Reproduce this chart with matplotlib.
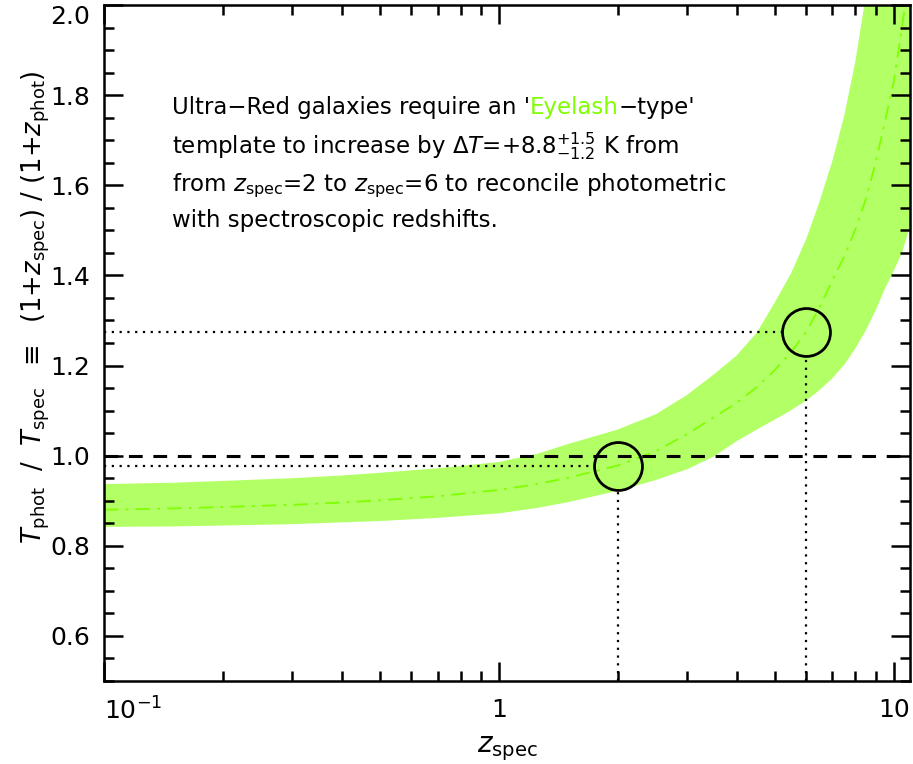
import numpy as np
import matplotlib
matplotlib.use("Agg")
import matplotlib.pyplot as plt
from matplotlib.ticker import FixedLocator, MultipleLocator, NullFormatter

# Redshift grid and the temperature-ratio band (centre, lower and upper edges)
z_spec = [0.1, 0.15, 0.2, 0.3, 0.4, 0.5, 0.7, 1.0, 1.25, 1.5, 2.0, 2.5, 3.0, 3.5,
          4.0, 4.5, 5.0, 5.5, 6.0, 6.5, 7.0, 7.5, 8.0, 8.5, 9.0, 9.5, 10.0, 10.5, 11.0]
ratio_mid = [0.880, 0.883, 0.886, 0.891, 0.896, 0.901, 0.910, 0.924, 0.937, 0.951,
             0.978, 1.010, 1.048, 1.085, 1.117, 1.152, 1.190, 1.230, 1.274, 1.330,
             1.390, 1.442, 1.502, 1.569, 1.650, 1.740, 1.828, 1.950, 2.080]
ratio_hi = [0.937, 0.940, 0.944, 0.950, 0.956, 0.962, 0.972, 0.986, 1.004, 1.026,
            1.058, 1.092, 1.135, 1.180, 1.222, 1.273, 1.340, 1.405, 1.480, 1.565,
            1.655, 1.755, 1.875, 2.020, 2.170, 2.330, 2.490, 2.650, 2.810]
ratio_lo = [0.842, 0.843, 0.845, 0.848, 0.852, 0.855, 0.862, 0.872, 0.884, 0.897,
            0.922, 0.946, 0.970, 0.998, 1.032, 1.058, 1.080, 1.101, 1.122, 1.146,
            1.172, 1.202, 1.238, 1.278, 1.322, 1.370, 1.410, 1.450, 1.510]

# Highlighted redshifts and their ratios
z_marks = [2.0, 6.0]
ratio_marks = [0.978, 1.274]

x_ticks = [0.1, 1, 10]
x_ticklabels = [r"10$^{-1}$", "1", "10"]
y_ticks = [0.6, 0.8, 1.0, 1.2, 1.4, 1.6, 1.8, 2.0]

band_color = "#b3ff66"
line_color = "#7fff00"

plt.rcParams["font.family"] = ["DejaVu Sans"]
plt.rcParams["mathtext.fontset"] = "dejavusans"

fig = plt.figure(figsize=(9.13, 7.64), dpi=100)
ax = fig.add_axes([0.1139, 0.1086, 0.8828, 0.8849])

ax.set_xscale("log")
ax.set_xlim(0.1, 11.0)
ax.set_ylim(0.5, 2.0)

ax.fill_between(z_spec, ratio_lo, ratio_hi, color=band_color, lw=0, zorder=1)
ax.plot(z_spec, ratio_mid, color=line_color, lw=1.3, ls=(0, (8, 4, 1.5, 4)), zorder=2)

ax.axhline(1.0, color="black", lw=2.2, ls=(0, (4.5, 3.5)), zorder=3)

ms = 34.5
circle_r_px = ms / 72 * fig.dpi / 2
fig.canvas.draw()
for zc, rc in zip(z_marks, ratio_marks):
    cx, cy = ax.transData.transform((zc, rc))
    x_edge = ax.transData.inverted().transform((cx - circle_r_px, cy))[0]
    y_edge = ax.transData.inverted().transform((cx, cy - circle_r_px))[1]
    ax.plot([0.1, x_edge], [rc, rc], color="black", lw=1.6, ls=(0, (1, 2.5)), zorder=3)
    ax.plot([zc, zc], [0.5, y_edge], color="black", lw=1.6, ls=(0, (1, 2.5)), zorder=3)
    ax.plot([zc], [rc], marker="o", ms=ms, mfc="none", mec="black", mew=2.0, zorder=4)

# Axes styling
for sp in ax.spines.values():
    sp.set_linewidth(1.8)
ax.xaxis.set_major_locator(FixedLocator(x_ticks))
ax.set_xticklabels(x_ticklabels)
ax.xaxis.set_minor_locator(FixedLocator(
    [m * d for d in (0.1, 1) for m in range(2, 10)]))
ax.xaxis.set_minor_formatter(NullFormatter())
ax.yaxis.set_major_locator(FixedLocator(y_ticks))
ax.set_yticklabels([f"{v:.1f}" for v in y_ticks])
ax.yaxis.set_minor_locator(MultipleLocator(0.05))
ax.tick_params(which="both", direction="in", top=True, right=True, width=1.8)
ax.tick_params(which="major", length=14, labelsize=18)
ax.tick_params(axis="x", which="major", pad=12)
ax.tick_params(axis="y", which="major", pad=10)
ax.tick_params(which="minor", length=7)
ax.get_xticklabels()[0].set_horizontalalignment("left")
ax.get_yticklabels()[-1].set_verticalalignment("top")

ax.set_xlabel(r"$z_{\rm spec}$", fontsize=20, labelpad=7)
ax.set_ylabel(r"$T_{\rm phot}$  /  $T_{\rm spec}$  $\equiv$  (1+$z_{\rm spec}$) / (1+$z_{\rm phot}$)",
              fontsize=18.5)
ax.yaxis.set_label_coords(-0.064, 0.553)

# Annotation block
fs = 16.5
t1 = ax.text(0.084, 0.838, "Ultra\u2212Red galaxies require an '", transform=ax.transAxes,
             fontsize=fs, va="baseline", ha="left")
t2 = ax.annotate("Eyelash", xy=(1, 0), xycoords=t1, fontsize=fs, color=line_color,
                 va="bottom", ha="left")
ax.annotate("\u2212type'", xy=(1, 0), xycoords=t2, fontsize=fs, va="bottom", ha="left")
ax.text(0.084, 0.781, r"template to increase by $\Delta T$=+8.8$^{+1.5}_{-1.2}$ K from",
        transform=ax.transAxes, fontsize=fs, va="baseline", ha="left")
ax.text(0.084, 0.725, r"from $z_{\rm spec}$=2 to $z_{\rm spec}$=6 to reconcile photometric",
        transform=ax.transAxes, fontsize=fs, va="baseline", ha="left")
ax.text(0.084, 0.672, "with spectroscopic redshifts.",
        transform=ax.transAxes, fontsize=fs, va="baseline", ha="left")

fig.savefig("out.png", dpi=100)
